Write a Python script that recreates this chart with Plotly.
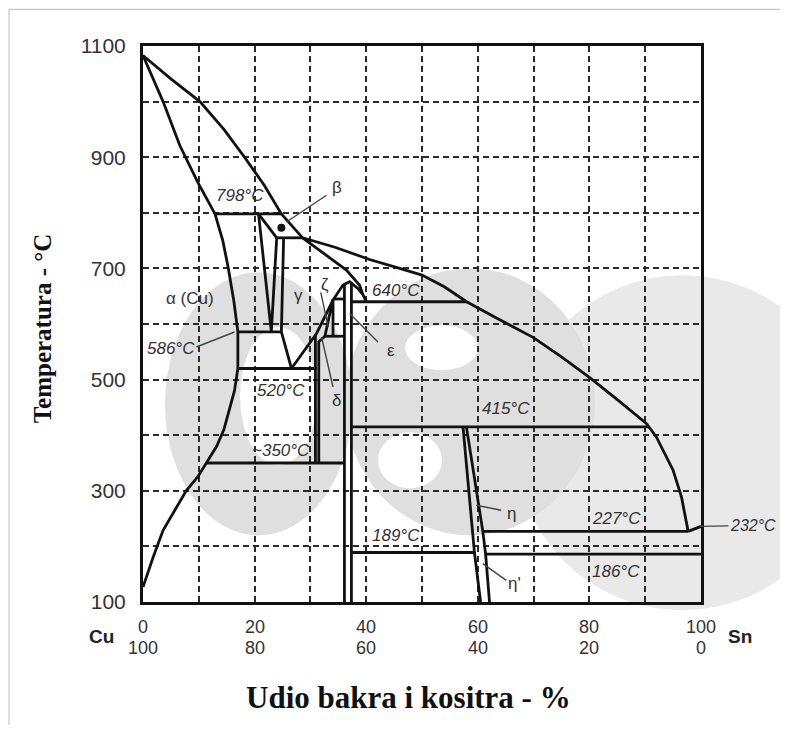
import plotly.graph_objects as go

# ---------------- data (wt.% Sn, temperature in C) ----------------
liq_x = [0, 5, 10.2, 14.5, 18.2, 21.7, 24.8, 28.6, 34.4, 40.6, 46.0, 50.0, 54.0, 58.0,
         63.5, 69.9, 75.0, 80.0, 85.0, 90.2, 92.0, 95.0, 96.5, 97.7]
liq_t = [1083, 1041, 1000, 950, 900, 850, 798, 755, 738, 716, 700, 688, 667, 640,
         610, 576, 541, 504, 464, 421, 397, 337, 289, 227]
sol_x = [0, 3.6, 6.6, 9.8, 12.9]
sol_t = [1083, 1000, 921, 855, 798]
alpha_x = [12.9, 14.3, 15.3, 16.3, 17.0, 17.0, 16.4, 15.5, 14.5, 13.2, 11.4, 9.8, 7.8, 5.7, 3.6, 1.8, 0]
alpha_t = [798, 750, 700, 640, 586, 520, 480, 445, 410, 380, 350, 325, 301, 265, 229, 180, 127]
beta_x = [20.7, 23.96]
beta_t = [798, 755]
vee_x = [20.7, 23.0, 23.96]
vee_t = [798, 586, 755]
gam_l_x = [25.2, 24.8, 26.6]
gam_l_t = [755, 586, 520]
gam_r_x = [26.6, 31.1, 34.05, 35.84, 37.04, 38.5, 39.4, 40.0]
gam_r_t = [520, 583, 643, 670, 676, 664, 653, 640]
feed_x = [28.6, 32.9, 36.45, 38.8, 39.4]
feed_t = [755, 724, 697, 670, 653]
zeta_x = [32.6, 33.3, 34.05, 34.05]
zeta_t = [578, 612, 645, 578]
delta_l_x = [30.9, 30.9]
delta_l_t = [582, 350]
delta_r_x = [31.5, 31.5, 32.6]
delta_r_t = [350, 568, 578]
eps_l_x = [36.1, 36.1]
eps_l_t = [671, 100]
eps_r_x = [37.35, 37.35]
eps_r_t = [675, 100]
eta_l_x = [57.35, 59.4, 60.5]
eta_l_t = [415, 189, 100]
eta_r_x = [57.96, 60.9, 61.4, 62.1]
eta_r_t = [415, 227, 186, 100]
sn_x = [97.7, 100]
sn_t = [227, 236]

# isotherms: temperature, start, end
iso_t = [798, 755, 586, 520, 350, 640, 415, 227, 189, 186, 645, 578]
iso_x0 = [12.9, 23.96, 17.0, 17.0, 11.4, 37.35, 37.35, 60.9, 37.35, 61.4, 34.05, 32.6]
iso_x1 = [24.8, 28.6, 24.8, 31.08, 36.1, 58.0, 90.6, 97.7, 59.5, 100, 36.1, 36.1]

# leader lines
lead_x0 = [25.7, 9.57, 31.86, 32.0, 37.04, 59.75, 60.9]
lead_t0 = [783.5, 558.6, 657, 576.6, 618.7, 274, 169]
lead_x1 = [32.9, 16.4, 33.2, 34.05, 42.1, 64.2, 65.1]
lead_t1 = [831.5, 585.6, 594.6, 486.7, 567.6, 265, 139]

dot_x = [24.8]
dot_t = [773]

# labels
temp_lab = ["798°C", "640°C", "586°C", "520°C", "~350°C", "415°C", "189°C", "227°C", "186°C"]
temp_x = [17.3, 45.4, 5.1, 24.8, 24.8, 65.1, 45.4, 84.8, 84.8]
temp_t = [831.5, 660.6, 556, 480.8, 372.8, 447.8, 220, 250, 154]
phase_lab = ["β", "α (Cu)", "γ", "ζ", "ε", "δ", "η", "η'"]
phase_x = [34.7, 8.4, 27.8, 32.6, 44.4, 34.7, 66.0, 66.6]
phase_t = [846, 645.7, 651.6, 671, 552.7, 462.8, 258.8, 133]

x_ticks = [0, 20, 40, 60, 80, 100]
x_top = ["0", "20", "40", "60", "80", "100"]
x_bottom = ["100", "80", "60", "40", "20", "0"]
y_ticks = [100, 300, 500, 700, 900, 1100]

# ---------------- layout helpers (page pixels -> paper) ----------------
PX0, PX1, PY0, PY1 = 143.0, 701.0, 45.7, 601.7


def px(v):
    return (v - PX0) / (PX1 - PX0)


def py(v):
    return (PY1 - v) / (PY1 - PY0)


fig = go.Figure()
BL = dict(color="#111111", width=2.8)


def add_line(xs, ts, line=BL):
    fig.add_trace(go.Scatter(x=xs, y=ts, mode="lines", line=line,
                             hoverinfo="skip", showlegend=False))


for xs, ts in [(liq_x, liq_t), (sol_x, sol_t), (alpha_x, alpha_t), (beta_x, beta_t),
               (vee_x, vee_t), (gam_l_x, gam_l_t), (gam_r_x, gam_r_t), (feed_x, feed_t),
               (zeta_x, zeta_t), (delta_l_x, delta_l_t), (delta_r_x, delta_r_t),
               (eps_l_x, eps_l_t), (eps_r_x, eps_r_t), (eta_l_x, eta_l_t),
               (eta_r_x, eta_r_t), (sn_x, sn_t)]:
    add_line(xs, ts)

for t, a, b in zip(iso_t, iso_x0, iso_x1):
    add_line([a, b], [t, t])

for a, b, c, d in zip(lead_x0, lead_t0, lead_x1, lead_t1):
    add_line([a, c], [b, d], dict(color="#444444", width=1.4))

fig.add_trace(go.Scatter(x=dot_x, y=dot_t, mode="markers",
                         marker=dict(color="#111111", size=8),
                         hoverinfo="skip", showlegend=False))

TXT = "#333333"
ann = []


def A(**kw):
    d = dict(showarrow=False, xanchor="center", yanchor="middle")
    d.update(kw)
    ann.append(d)


for s, x, t in zip(temp_lab, temp_x, temp_t):
    A(x=x, y=t, xref="x", yref="y", text="<i>" + s + "</i>",
      font=dict(family="Liberation Sans", size=17, color=TXT))
for s, x, t in zip(phase_lab, phase_x, phase_t):
    A(x=x, y=t, xref="x", yref="y", text=s,
      font=dict(family="Liberation Sans", size=17, color=TXT))
A(x=-6.3, y=1051, xref="x", yref="y", text="<i>1083°C</i>",
  font=dict(family="Liberation Sans", size=13, color=TXT))
A(x=100, y=236, xref="x", yref="y", text="<i>232°C</i>", showarrow=True,
  arrowhead=0, arrowwidth=1.4, arrowcolor="#444444", ax=52, ay=-1,
  font=dict(family="Liberation Sans", size=16, color=TXT))
for x, s in zip(x_ticks, x_top):
    A(x=x, y=py(627), xref="x", yref="paper", text=s,
      font=dict(family="Liberation Sans", size=18, color=TXT))
for x, s in zip(x_ticks, x_bottom):
    A(x=x, y=py(648), xref="x", yref="paper", text=s,
      font=dict(family="Liberation Sans", size=18, color=TXT))
A(x=px(101), y=py(636), xref="paper", yref="paper", text="<b>Cu</b>",
  font=dict(family="Liberation Sans", size=19, color="#222222"))
A(x=px(740), y=py(636), xref="paper", yref="paper", text="<b>Sn</b>",
  font=dict(family="Liberation Sans", size=19, color="#222222"))
A(x=px(408), y=py(697), xref="paper", yref="paper",
  text="<b>Udio bakra i kositra - %</b>",
  font=dict(family="Liberation Serif", size=31, color="#111111"))
A(x=px(42), y=py(328), xref="paper", yref="paper", textangle=-90,
  text="<b>Temperatura - °C</b>",
  font=dict(family="Liberation Serif", size=25, color="#111111"))

# watermark (light grey logo behind the diagram) and frame of the picture
G1, G2 = "#dfdfdf", "#e9e9e9"


def ell(x0, y0, x1, y1, color):
    return dict(type="circle", xref="paper", yref="paper", layer="below",
                x0=px(x0), x1=px(x1), y0=py(y1), y1=py(y0),
                fillcolor=color, line=dict(width=0))


shapes = [
    ell(515, 275, 850, 610, G2),
    ell(345, 268, 595, 535, G1),
    ell(405, 325, 478, 370, "white"),
    ell(378, 432, 442, 488, "white"),
    ell(165, 272, 352, 535, G1),
    ell(240, 327, 317, 465, "white"),
    dict(type="line", xref="paper", yref="paper", x0=px(9), x1=px(790), y0=py(9), y1=py(9),
         line=dict(color="#bbbbbb", width=1)),
    dict(type="line", xref="paper", yref="paper", x0=px(9), x1=px(9), y0=py(9), y1=py(740),
         line=dict(color="#bbbbbb", width=1)),
]

GRID = dict(showgrid=True, gridcolor="#2a2a2a", gridwidth=1.5, griddash="6px,4px")

fig.update_layout(
    width=772, height=717, autosize=False,
    margin=dict(l=135, r=79, t=38, b=123, pad=0),
    paper_bgcolor="white", plot_bgcolor="white",
    annotations=ann, shapes=shapes,
    xaxis=dict(range=[0, 100], tickvals=x_ticks, showticklabels=False, ticks="",
               showline=True, mirror=True, linecolor="#111111", linewidth=3,
               zeroline=False, layer="above traces",
               minor=dict(dtick=10, tick0=0, **GRID), **GRID),
    yaxis=dict(range=[100, 1100], tickvals=y_ticks, ticks="",
               showline=True, mirror=True, linecolor="#111111", linewidth=3,
               zeroline=False, ticklabelstandoff=10,
               tickfont=dict(family="Liberation Sans", size=21, color=TXT),
               minor=dict(dtick=100, tick0=100, **GRID), **GRID),
)

fig.write_html("out.html")
